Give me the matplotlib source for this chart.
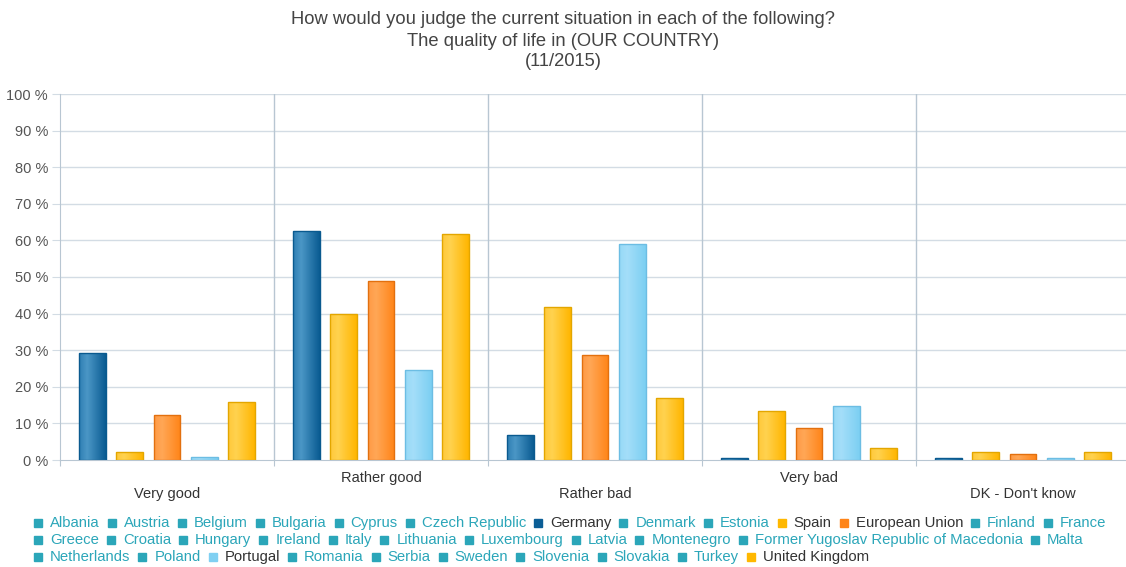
import numpy as np
import matplotlib
matplotlib.use("Agg")
import matplotlib.pyplot as plt
from matplotlib.colors import LinearSegmentedColormap
from matplotlib.transforms import blended_transform_factory

plt.rcParams['font.family'] = ['Liberation Sans', 'DejaVu Sans']

# ---- data ----
categories = ["Very good", "Rather good", "Rather bad", "Very bad", "DK - Don't know"]
series_names = ["Germany", "Spain", "European Union", "Portugal", "United Kingdom"]
germany = [29.3, 62.7, 6.7, 0.5, 0.5]
spain = [2.3, 40.0, 41.9, 13.5, 2.2]
european_union = [12.3, 48.8, 28.7, 8.7, 1.6]
portugal = [0.9, 24.5, 59.1, 14.8, 0.6]
united_kingdom = [15.8, 61.7, 17.0, 3.2, 2.2]
series_values = [germany, spain, european_union, portugal, united_kingdom]
y_ticks = [0, 10, 20, 30, 40, 50, 60, 70, 80, 90, 100]
y_tick_labels = [f"{t} %" for t in y_ticks]

legend_rows = [
    ["Albania", "Austria", "Belgium", "Bulgaria", "Cyprus", "Czech Republic", "Germany",
     "Denmark", "Estonia", "Spain", "European Union", "Finland", "France"],
    ["Greece", "Croatia", "Hungary", "Ireland", "Italy", "Lithuania", "Luxembourg", "Latvia",
     "Montenegro", "Former Yugoslav Republic of Macedonia", "Malta"],
    ["Netherlands", "Poland", "Portugal", "Romania", "Serbia", "Sweden", "Slovenia",
     "Slovakia", "Turkey", "United Kingdom"],
]

# ---- styles: (left, light stripe, right-dark, edge, legend swatch) ----
styles = {
    "Germany": ("#2f7fb3", "#4b97c6", "#0a5b92", "#0a5a8f", "#0b5e96"),
    "Spain": ("#ffc93a", "#ffd24f", "#ffb600", "#e3a600", "#ffb800"),
    "European Union": ("#ff9a45", "#ffa756", "#ff8417", "#e2700f", "#ff8418"),
    "Portugal": ("#96d9f6", "#a4def9", "#7ccff2", "#6cbde3", "#80d0f2"),
    "United Kingdom": ("#ffc93a", "#ffd24f", "#ffb600", "#e3a600", "#ffb800"),
}
hidden_color = "#2ba6b9"
text_color = "#333333"
grid_color = "#d3dce4"
axis_color = "#b8c6d2"

PX = 0.72  # one pixel in points at 100 dpi

W, H = 1126, 567
fig = plt.figure(figsize=(W / 100, H / 100), dpi=100)
left_px, right_px, top_px, bottom_px = 60, 1130, 94, 460
ax = fig.add_axes([left_px / W, (H - bottom_px) / H,
                   (right_px - left_px) / W, (bottom_px - top_px) / H])

# grid and separators
for t in y_ticks[1:]:
    ax.axhline(t, color=grid_color, lw=1, zorder=0)
for b in np.arange(0.5, len(categories) - 0.5, 1.0):
    ax.axvline(b, color=axis_color, lw=1, zorder=0)

for s in ["top", "right"]:
    ax.spines[s].set_visible(False)
ax.spines["left"].set_color(axis_color)
ax.spines["bottom"].set_color(axis_color)

ax.set_yticks(y_ticks)
ax.set_yticklabels(y_tick_labels, fontsize=10.5, color="#555555")
ax.tick_params(axis="y", length=8 * PX, color=grid_color, pad=4 * PX)
ax.set_xticks(np.arange(-0.5, len(categories) + 0.5, 1.0))
ax.set_xticklabels([])
ax.tick_params(axis="x", length=6 * PX, color=axis_color)

# bars with horizontal gradient fill
n = len(series_names)
step = 0.173
width = 0.126
x = np.arange(len(categories))
for i, (name, vals) in enumerate(zip(series_names, series_values)):
    c0, c1, c2, edge, _ = styles[name]
    cmap = LinearSegmentedColormap.from_list(name, [(0, c0), (0.3, c1), (1, c2)])
    offs = (i - (n - 1) / 2) * step
    bars = ax.bar(x + offs, vals, width=width, color="none", edgecolor=edge,
                  linewidth=1, zorder=3)
    for rect in bars:
        bx, by = rect.get_x(), rect.get_y()
        bw, bh = rect.get_width(), rect.get_height()
        im = ax.imshow(np.linspace(0, 1, 64).reshape(1, -1), cmap=cmap, aspect="auto",
                       extent=(bx, bx + bw, by, by + bh), zorder=2,
                       interpolation="bilinear")
        im.set_clip_path(rect)
ax.set_xlim(-0.5, len(categories) - 0.5)
ax.set_ylim(0, 100)

# staggered category labels
trans = blended_transform_factory(ax.transData, fig.transFigure)
for i, cat in enumerate(categories):
    ypx = 494 if i % 2 == 0 else 478
    ax.text(i, 1 - ypx / H, cat, transform=trans, ha="center", va="center",
            fontsize=10.5, color=text_color)

# title
title_lines = ["How would you judge the current situation in each of the following?",
               "The quality of life in (OUR COUNTRY)", "(11/2015)"]
for line, ypx in zip(title_lines, [19, 41, 62]):
    fig.text(563 / W, 1 - ypx / H, line, ha="center", va="center",
             fontsize=13.2, color="#444444")

# legend laid out row by row
fig.canvas.draw()
renderer = fig.canvas.get_renderer()
row_y = [523, 540, 557]
for row, ypx in zip(legend_rows, row_y):
    xpx = 34
    for item in row:
        visible = item in styles
        sw = styles[item][4] if visible else hidden_color
        fig.patches.append(plt.Rectangle((xpx / W, 1 - (ypx + 4) / H), 8 / W, 8 / H,
                                         transform=fig.transFigure, color=sw,
                                         figure=fig))
        t = fig.text((xpx + 16) / W, 1 - ypx / H, item, ha="left", va="center",
                     fontsize=10.7, color=text_color if visible else hidden_color)
        bb = t.get_window_extent(renderer)
        xpx = xpx + 16 + bb.width + 8

fig.savefig("out.png", dpi=100)
